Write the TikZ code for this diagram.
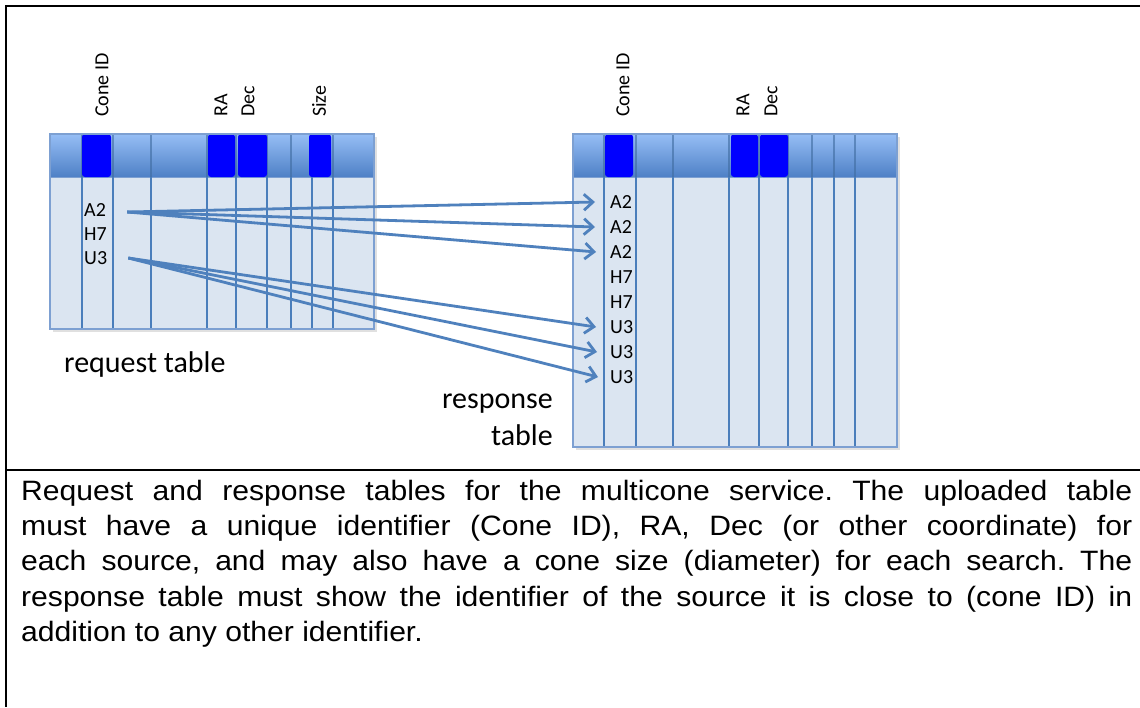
\documentclass[tikz,border=0pt]{standalone}
\usepackage{fontspec}
\setmainfont{Carlito}
\newfontfamily\capfont{Liberation Sans}[FakeStretch=1.075]
\usetikzlibrary{arrows.meta}

\definecolor{bodyfill}{RGB}{219,229,241}
\definecolor{colline}{RGB}{74,126,187}
\definecolor{headtop}{RGB}{150,190,245}
\definecolor{headbot}{RGB}{78,128,198}
\definecolor{keybox}{RGB}{0,0,255}
\definecolor{arrowblue}{RGB}{79,129,189}
\definecolor{tabedge}{RGB}{125,160,210}

\tikzset{
  frameline/.style={line width=2.2pt, black},
  tablebody/.style={fill=bodyfill, draw=tabedge, line width=1.2pt},
  tablehead/.style={top color=headtop, bottom color=headbot, draw=tabedge, line width=1pt},
  colrule/.style={draw=colline, line width=2.8pt},
  headrule/.style={draw=colline!85!black, line width=1.2pt, opacity=0.6},
  keycol/.style={fill=keybox, rounded corners=3pt},
  colname/.style={rotate=90, anchor=west, inner sep=0pt, font=\fontsize{20}{22}\selectfont},
  cellval/.style={anchor=west, inner sep=0pt, font=\fontsize{20}{22}\selectfont},
  tablename/.style={inner sep=0pt, font=\fontsize{30}{36.5}\selectfont},
  link/.style={draw=arrowblue, line width=2.8pt,
    -{Straight Barb[length=9pt, width=16pt, line width=2.8pt]}},
}

\begin{document}
\frenchspacing
\begin{tikzpicture}[x=1pt, y=-1pt]
\useasboundingbox (0,0) rectangle (1140,707);
\fill[white] (0,0) rectangle (1140,707);

% frame of the figure and its caption
\coordinate (ftl) at (6,6);
\coordinate (ftr) at (1140,6);
\coordinate (fbl) at (6,707);
\coordinate (sepl) at (6,470);
\coordinate (sepr) at (1140,470);
\draw[frameline] (ftr) -- (ftl) -- (fbl);
\draw[frameline, line width=2pt] (sepl) -- (sepr);

% ---------------- request table ----------------
\fill[black!12] (53,137) rectangle (377,332);
\path[tablebody] (50,177) rectangle (374,329);
\path[tablehead] (50,134) rectangle (374,177);
\foreach \x in {82,113,151,207,236,267,291,312,333}
  \draw[headrule] (\x,134) -- (\x,177);
\path[keycol] (82,134) rectangle (111,177);
\path[keycol] (208,134) rectangle (235,177);
\path[keycol] (238,134) rectangle (267,177);
\path[keycol] (309,134) rectangle (331,177);
\foreach \x in {82,113,151,207,236,267,291,312,333}
  \draw[colrule] (\x,177) -- (\x,329);
\draw[tabedge, line width=1.2pt] (50,134) rectangle (374,329);

\node[colname] (qcone) at (102,117) {Cone ID};
\node[colname] (qra)   at (221,117) {RA};
\node[colname] (qdec)  at (248,117) {Dec};
\node[colname] (qsize) at (319,117) {Size};

\node[cellval] (qa) at (84,210) {A2};
\node[cellval] (qh) at (84,234) {H7};
\node[cellval] (qu) at (84,258) {U3};

\node[tablename, anchor=base west] (qname) at (64,372.5) {request table};

% ---------------- response table ----------------
\fill[black!12] (576,137) rectangle (900,450);
\path[tablebody] (573,177) rectangle (897,447);
\path[tablehead] (573,134) rectangle (897,177);
\foreach \x in {604,636,673,729,759,788,812,834,855}
  \draw[headrule] (\x,134) -- (\x,177);
\path[keycol] (605,134) rectangle (633,177);
\path[keycol] (731,134) rectangle (758,177);
\path[keycol] (760,134) rectangle (788,177);
\foreach \x in {604,636,673,729,759,788,812,834,855}
  \draw[colrule] (\x,177) -- (\x,447);
\draw[tabedge, line width=1.2pt] (573,134) rectangle (897,447);

\node[colname] (rcone) at (623,117) {Cone ID};
\node[colname] (rra)   at (743,117) {RA};
\node[colname] (rdec)  at (771,117) {Dec};

\node[cellval] (r1) at (610,202) {A2};
\node[cellval] (r2) at (610,227) {A2};
\node[cellval] (r3) at (610,252) {A2};
\node[cellval] (r4) at (610,277) {H7};
\node[cellval] (r5) at (610,302) {H7};
\node[cellval] (r6) at (610,327) {U3};
\node[cellval] (r7) at (610,352) {U3};
\node[cellval] (r8) at (610,377) {U3};

\node[tablename, anchor=east, align=right] (rname) at (553,420) {response\\table};

% ---------------- matches ----------------
\draw[link] ([xshift=21pt, yshift=-2pt]qa.east) -- ([xshift=-15pt]r1.west);
\draw[link] ([xshift=21pt, yshift=-2pt]qa.east) -- ([xshift=-15pt]r2.west);
\draw[link] ([xshift=21pt, yshift=-2pt]qa.east) -- ([xshift=-14pt]r3.west);
\draw[link] ([xshift=21pt]qu.east) -- ([xshift=-14pt]r6.west);
\draw[link] ([xshift=21pt]qu.east) -- ([xshift=-13pt]r7.west);
\draw[link] ([xshift=21pt]qu.east) -- ([xshift=-12pt]r8.west);

% ---------------- caption ----------------
\node[anchor=base west, inner sep=0pt, text width=1111pt, align=justify,
      font=\capfont\fontsize{28}{35.2}\selectfont] (caption) at (21,500.5)
{Request and response tables for the multicone service. The uploaded table\linebreak
must have a unique identifier (Cone ID), RA, Dec (or other coordinate) for\linebreak
each source, and may also have a cone size (diameter) for each search. The\linebreak
response table must show the identifier of the source it is close to (cone ID) in\linebreak
addition to any other identifier.};
\end{tikzpicture}
\end{document}
